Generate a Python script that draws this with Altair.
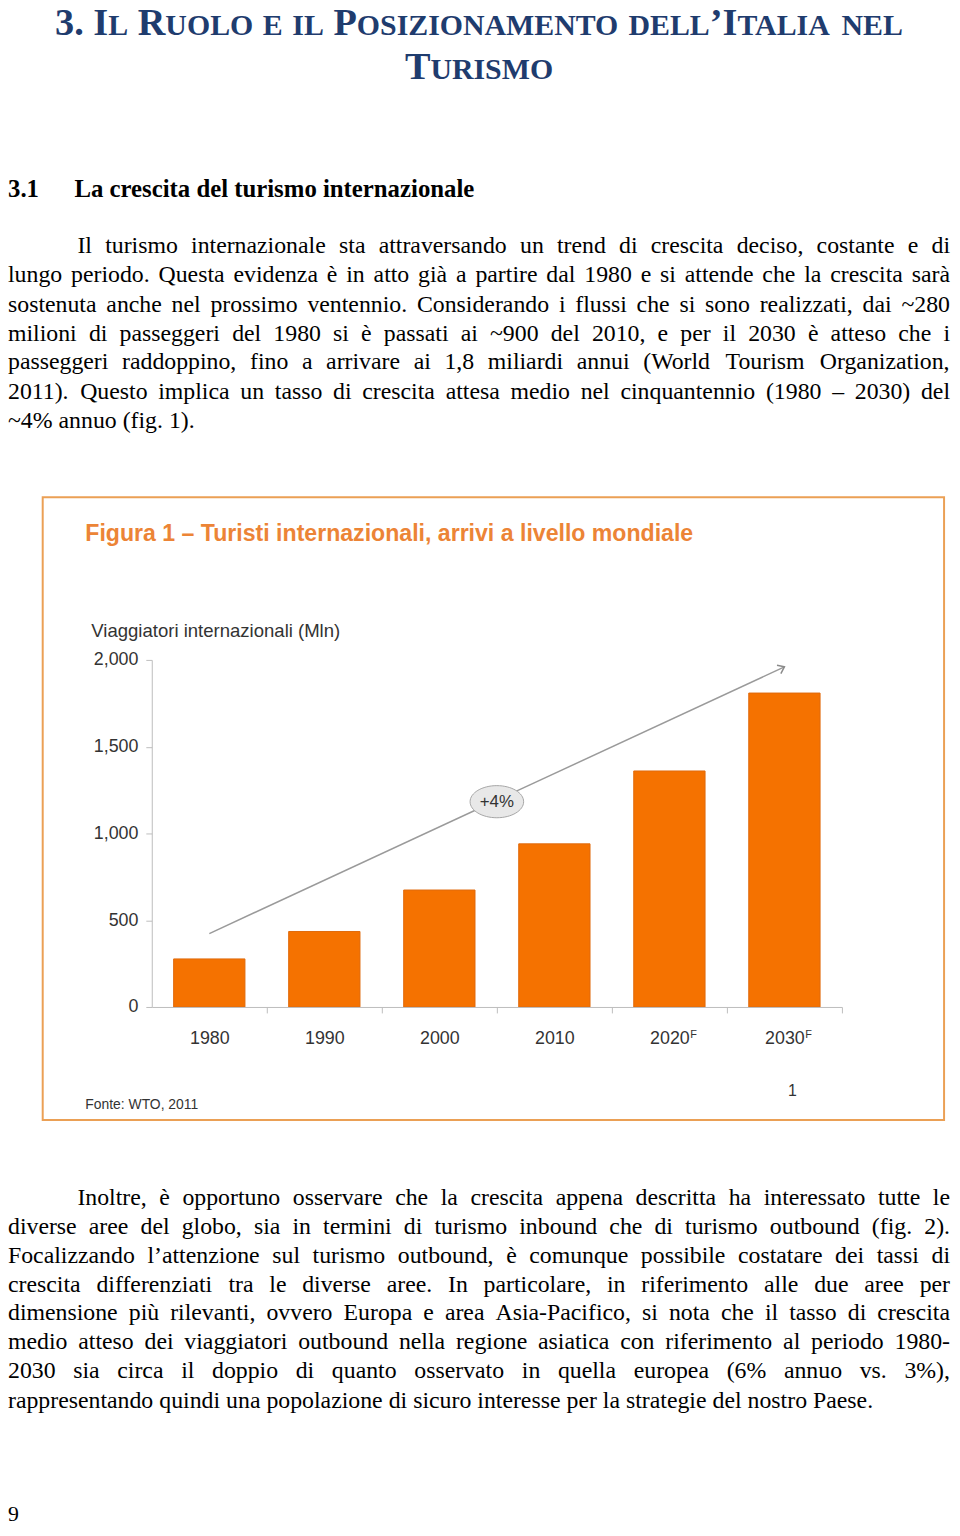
import altair as alt
import pandas as pd

# ---------------- data ----------------
years = ["1980", "1990", "2000", "2010", "2020", "2030"]
arrivals_mln = [277, 435, 674, 940, 1360, 1809]
forecast_years = ["2020", "2030"]
forecast_mark = "F"
y_tick_values = [0, 500, 1000, 1500, 2000]
trend_years = ["1980", "2030"]
trend_values = [423, 1960]
trend_label = "+4%"
trend_label_year = "2000"
trend_label_value = 1183

fig_title = "Figura 1 – Turisti internazionali, arrivi a livello mondiale"
y_title = "Viaggiatori internazionali (Mln)"
source_note = "Fonte: WTO, 2011"
slide_number = "1"

page_title = ["3. Il Ruolo e il Posizionamento dell’Italia nel", "Turismo"]
section_number = "3.1"
section_title = "La crescita del turismo internazionale"
paragraph1 = [
    "Il turismo internazionale sta attraversando un trend di crescita deciso, costante e di",
    "lungo periodo. Questa evidenza è in atto già a partire dal 1980 e si attende che la crescita sarà",
    "sostenuta anche nel prossimo ventennio. Considerando i flussi che si sono realizzati, dai ~280",
    "milioni di passeggeri del 1980 si è passati ai ~900 del 2010, e per il 2030 è atteso che i",
    "passeggeri raddoppino, fino a arrivare ai 1,8 miliardi annui (World Tourism Organization,",
    "2011). Questo implica un tasso di crescita attesa medio nel cinquantennio (1980 – 2030) del",
    "~4% annuo (fig. 1).",
]
paragraph2 = [
    "Inoltre, è opportuno osservare che la crescita appena descritta ha interessato tutte le",
    "diverse aree del globo, sia in termini di turismo inbound che di turismo outbound (fig. 2).",
    "Focalizzando l’attenzione sul turismo outbound, è comunque possibile costatare dei tassi di",
    "crescita differenziati tra le diverse aree. In particolare, in riferimento alle due aree per",
    "dimensione più rilevanti, ovvero Europa e area Asia-Pacifico, si nota che il tasso di crescita",
    "medio atteso dei viaggiatori outbound nella regione asiatica con riferimento al periodo 1980-",
    "2030 sia circa il doppio di quanto osservato in quella europea (6% annuo vs. 3%),",
    "rappresentando quindi una popolazione di sicuro interesse per la strategie del nostro Paese.",
]
page_number = "9"

# ---------------- layout / style ----------------
W, H = 952, 1520
SERIF = "Liberation Serif"
SANS = "Liberation Sans"
NAVY = "#1F3C6E"
ORANGE = "#F57200"
TITLE_ORANGE = "#EC8436"
FRAME = "#EBA055"
AX = "#BDBDBD"
TXT = "#333333"
BODY_FS = 24
RIGHT = 950

LOW = "abcdefghijklmnopqrstuvwxyz"
UP = "ABCDEFGHIJKLMNOPQRSTUVWXYZ"
T_LOW = [444, 500, 444, 500, 444, 333, 500, 500, 278, 278, 500, 278, 778, 500, 500, 500, 500, 333, 389, 278, 500, 500, 722, 500, 500, 444]
T_UP = [722, 667, 667, 722, 611, 556, 722, 722, 333, 389, 722, 611, 889, 722, 722, 556, 722, 667, 556, 611, 722, 722, 944, 722, 722, 611]
B_LOW = [500, 556, 444, 556, 444, 333, 500, 556, 278, 333, 556, 278, 833, 556, 500, 556, 556, 444, 389, 333, 556, 500, 722, 500, 500, 444]
B_UP = [722, 667, 722, 722, 667, 611, 778, 778, 389, 500, 778, 667, 944, 722, 778, 611, 778, 722, 556, 667, 722, 722, 1000, 722, 722, 667]
PUNCT = {" ": 250, ".": 250, ",": 250, "(": 333, ")": 333, "-": 333, "–": 500, "~": 541,
         "%": 833, "’": 333, ":": 278, "à": 444, "è": 444, "é": 444, "ì": 278, "ò": 500, "ù": 500}
for d in "0123456789":
    PUNCT[d] = 500
TIMES = dict(PUNCT, **dict(zip(LOW, T_LOW)), **dict(zip(UP, T_UP)))
TIMES_B = dict(PUNCT, **dict(zip(LOW, B_LOW)), **dict(zip(UP, B_UP)))


def width(s, table, fs):
    return sum(table.get(c, 500) for c in s) * fs / 1000.0


def justify(lines, baselines, indent, fs):
    rows = []
    sp = TIMES[" "] * fs / 1000.0
    for i, (line, yb) in enumerate(zip(lines, baselines)):
        words = line.split()
        left = indent if i == 0 else 0.0
        ws = [width(w, TIMES, fs) for w in words]
        if i == len(lines) - 1:
            gap = sp
        else:
            gap = (RIGHT - left - sum(ws)) / (len(words) - 1)
        x = left
        for w, wd in zip(words, ws):
            rows.append({"t": w, "x": x, "y": yb})
            x += wd + gap
    return rows


def smallcaps(text, cx, yb, fs, ratio):
    chars = []
    for ch in text:
        if ch == " ":
            chars.append((" ", fs))
        elif ch.islower():
            chars.append((ch.upper(), fs * ratio))
        else:
            chars.append((ch, fs))
    total = sum(TIMES_B.get(c, 500) * s / 1000.0 for c, s in chars)
    x = cx - total / 2
    rows, cur = [], None
    for c, s in chars:
        w = TIMES_B.get(c, 500) * s / 1000.0
        if c == " ":
            cur = None
            x += w
            continue
        if cur is not None and cur["s"] == s:
            cur["t"] += c
        else:
            cur = {"t": c, "x": x, "y": yb, "s": s}
            rows.append(cur)
        x += w
    return rows


def pix_text(rows, sized=False, **mark):
    enc = dict(
        x=alt.X("x:Q", scale=None, axis=None),
        y=alt.Y("y:Q", scale=None, axis=None),
        text="t:N",
    )
    if sized:
        enc["size"] = alt.Size("s:Q", scale=None, legend=None)
    params = dict(align="left", baseline="alphabetic")
    params.update(mark)
    return alt.Chart(pd.DataFrame(rows)).mark_text(**params).encode(**enc)


# ---------------- page text ----------------
title_rows = smallcaps(page_title[0], 475, 21, 38.6, 0.78) + smallcaps(page_title[1], 475, 65, 38.6, 0.78)
title_layer = pix_text(title_rows, sized=True, font=SERIF, fontWeight="bold", color=NAVY)

heading_layer = pix_text(
    [{"t": section_number, "x": 0, "y": 184}, {"t": section_title, "x": 67, "y": 184}],
    font=SERIF, fontWeight="bold", fontSize=25, color="#000000")

p1_base = [241, 270, 300, 329, 358, 388, 417]
p2_base = [1201, 1230, 1259, 1288, 1317, 1346, 1375, 1405]
body_rows = justify(paragraph1, p1_base, 70, BODY_FS) + justify(paragraph2, p2_base, 70, BODY_FS)
body_layer = pix_text(body_rows, font=SERIF, fontSize=BODY_FS, color="#000000")

page_no_layer = pix_text([{"t": page_number, "x": 0, "y": 1519}], font=SERIF, fontSize=22, color="#000000")

# ---------------- figure frame and texts ----------------
frame = alt.Chart(pd.DataFrame({"k": [0]})).mark_rect(
    fill="white", fillOpacity=0, stroke=FRAME, strokeWidth=2
).encode(x=alt.value(35), x2=alt.value(944), y=alt.value(487), y2=alt.value(1115))

fig_title_layer = pix_text([{"t": fig_title, "x": 78, "y": 531}], font=SANS, fontWeight="bold",
                           fontSize=23.3, color=TITLE_ORANGE)
y_title_layer = pix_text([{"t": y_title, "x": 84, "y": 628}], font=SANS, fontSize=18.7, color=TXT)
source_layer = pix_text([{"t": source_note, "x": 78, "y": 1104}], font=SANS, fontSize=14, color=TXT)
slide_layer = pix_text([{"t": slide_number, "x": 791, "y": 1091}], font=SANS, fontSize=16,
                       color=TXT, align="center")

# ---------------- bar chart (drawn through scales) ----------------
xscale = alt.Scale(domain=years, range=[145, 841], paddingInner=0.38, paddingOuter=0.19)
yscale = alt.Scale(domain=[0, 2000], range=[1001, 651], nice=False, zero=True)
xaxis = alt.Axis(orient="bottom", offset=1001 - H, title=None, labelAngle=0, grid=False,
                 domainColor=AX, tickColor=AX, tickSize=6, labelFont=SANS, labelFontSize=18,
                 labelColor=TXT, labelPadding=17, bandPosition=1, tickOffset=22, labelOffset=-22,
                 zindex=1)
yaxis = alt.Axis(orient="left", offset=-145, title=None, values=y_tick_values, format=",.0f",
                 grid=False, domainColor=AX, tickColor=AX, tickSize=6, labelFont=SANS,
                 labelFontSize=18, labelColor=TXT, labelPadding=8, zindex=1)

bar_df = pd.DataFrame({"year": years, "value": arrivals_mln})
bars = alt.Chart(bar_df).mark_bar(color=ORANGE, stroke="#E06A0C", strokeWidth=1).encode(
    x=alt.X("year:N", scale=xscale, axis=xaxis),
    y=alt.Y("value:Q", scale=yscale, axis=yaxis),
)

trend_df = pd.DataFrame({"year": [trend_years[0]], "value": [trend_values[0]],
                         "year2": [trend_years[1]], "value2": [trend_values[1]]})
trend = alt.Chart(trend_df).mark_rule(color="#9A9A9A", strokeWidth=1.5).encode(
    x=alt.X("year:N", scale=xscale, axis=xaxis), x2="year2:N",
    y=alt.Y("value:Q", scale=yscale, axis=yaxis), y2="value2:Q",
)

head_df = pd.DataFrame({"year": [trend_years[1]], "value": [trend_values[1]]})
CHEVRON = "M -1 -0.75 L 0 0 L -1 0.75"
head = alt.Chart(head_df).mark_point(shape=CHEVRON, filled=False, size=150, angle=335,
                                     color="#8A8A8A", strokeWidth=1.5, opacity=1).encode(
    x=alt.X("year:N", scale=xscale, axis=xaxis),
    y=alt.Y("value:Q", scale=yscale, axis=yaxis),
)

lab_df = pd.DataFrame({"year": [trend_label_year], "value": [trend_label_value], "t": [trend_label]})
ELLIPSE = "M -1 0 A 1 0.6 0 1 0 1 0 A 1 0.6 0 1 0 -1 0 Z"
ellipse = alt.Chart(lab_df).mark_point(shape=ELLIPSE, filled=True, fill="#E8E8E8", stroke="#A5A5A5",
                                       strokeWidth=1, size=2916, xOffset=58, opacity=1).encode(
    x=alt.X("year:N", scale=xscale, axis=xaxis),
    y=alt.Y("value:Q", scale=yscale, axis=yaxis),
)
ellipse_text = alt.Chart(lab_df).mark_text(dx=58, font=SANS, fontSize=17, color=TXT,
                                           align="center", baseline="middle").encode(
    x=alt.X("year:N", scale=xscale, axis=xaxis),
    y=alt.Y("value:Q", scale=yscale, axis=yaxis),
    text="t:N",
)

sup_df = pd.DataFrame({"year": forecast_years, "t": [forecast_mark] * len(forecast_years)})
sup = alt.Chart(sup_df).mark_text(dx=21, font=SANS, fontSize=11, color=TXT,
                                  align="left", baseline="top").encode(
    x=alt.X("year:N", scale=xscale, axis=xaxis),
    y=alt.value(1023),
    text="t:N",
)

figure = alt.layer(bars, trend, head, ellipse, ellipse_text, sup)

chart = alt.layer(
    frame, title_layer, heading_layer, body_layer, page_no_layer,
    fig_title_layer, y_title_layer, source_layer, slide_layer, figure,
).resolve_scale(
    x="independent", y="independent"
).properties(
    width=W, height=H, padding=0, autosize=alt.AutoSizeParams(type="none"),
    background="white",
).configure_view(strokeWidth=0)

chart.save("out.html", embed_options={"renderer": "svg", "actions": False})
